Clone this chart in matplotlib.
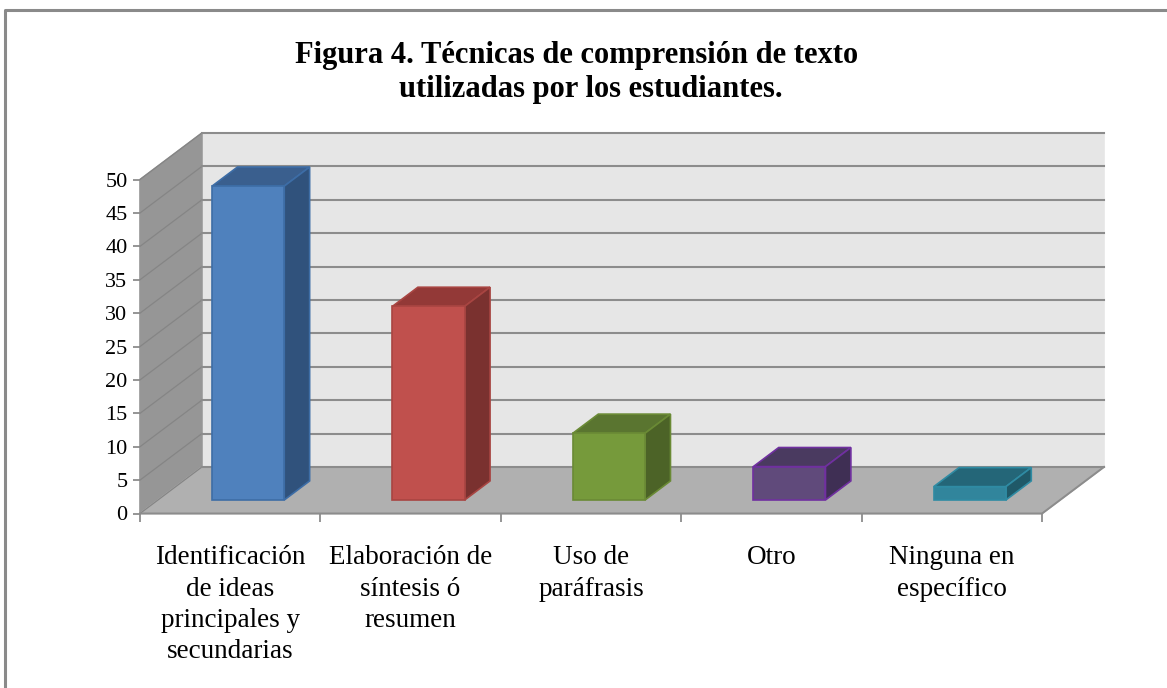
import numpy as np
import matplotlib
matplotlib.use("Agg")
import matplotlib.pyplot as plt
from matplotlib.lines import Line2D
from matplotlib.patches import Polygon

categories = [
    "Identificación\nde ideas\nprincipales y\nsecundarias",
    "Elaboración de\nsíntesis ó\nresumen",
    "Uso de\nparáfrasis",
    "Otro",
    "Ninguna en\nespecífico",
]
values = [47, 29, 10, 5, 2]
y_ticks = [0, 5, 10, 15, 20, 25, 30, 35, 40, 45, 50]

face_colors = ["#4f81bd", "#c0504d", "#769a3b", "#604a7b", "#31859c"]
top_colors = ["#3a5f8e", "#933937", "#5a7530", "#4a3a60", "#246678"]
side_colors = ["#30527c", "#7a312f", "#4c6327", "#3f2f54", "#1f5968"]
edge_colors = ["#3d6da6", "#a84542", "#6a8a35", "#7030a0", "#2f8ba3"]

WIDTH, HEIGHT = 1167, 688
LEFT, RIGHT, TOP, BOTTOM = 140, 1104, 133, 513.5

# depth of the 3d box, expressed in data units
DEPTH_X = 62 / 180.6
DEPTH_Y = 46.5 / 6.67
BAR_WIDTH = 0.4
BAR_START = 0.29
BAR_DEPTH = 0.41


def project(x, depth, y):
    return x + depth * DEPTH_X, y + depth * DEPTH_Y


def face(ax, corners, color, edge=None, zorder=2):
    pts = [project(*c) for c in corners]
    ax.add_patch(Polygon(pts, closed=True, facecolor=color, edgecolor=edge or color,
                         linewidth=1.2, zorder=zorder, clip_on=False))


plt.rcParams["font.family"] = ["Liberation Serif", "DejaVu Serif"]
fig = plt.figure(figsize=(WIDTH / 100, HEIGHT / 100), dpi=100)

# outer frame only shows on the top and left of the picture
fig.add_artist(Line2D([5 / WIDTH, 5 / WIDTH, 1], [0, 1 - 9.5 / HEIGHT, 1 - 9.5 / HEIGHT],
                      color="#8a8a8a", linewidth=2.2, transform=fig.transFigure))

ax = fig.add_axes([LEFT / WIDTH, 1 - BOTTOM / HEIGHT, (RIGHT - LEFT) / WIDTH, (BOTTOM - TOP) / HEIGHT])
n = len(categories)
ymax = y_ticks[-1]
ax.set_xlim(0, n + DEPTH_X)
ax.set_ylim(0, ymax + DEPTH_Y)
ax.patch.set_visible(False)
for spine in ax.spines.values():
    spine.set_visible(False)

# walls and floor
face(ax, [(0, 1, 0), (n, 1, 0), (n, 1, ymax), (0, 1, ymax)], "#e6e6e6", zorder=1)
face(ax, [(0, 0, 0), (0, 1, 0), (0, 1, ymax), (0, 0, ymax)], "#969696", zorder=1)
face(ax, [(0, 0, 0), (n, 0, 0), (n, 1, 0), (0, 1, 0)], "#b0b0b0", zorder=1.2)

# gridlines run along the side wall and the back wall
for v in y_ticks:
    xs, ys = zip(project(0, 0, v), project(0, 1, v))
    ax.plot(xs, ys, color="#858585", linewidth=0.9, zorder=1.5, clip_on=False)
    xs, ys = zip(project(0, 1, v), project(n, 1, v))
    ax.plot(xs, ys, color="#8c8c8c", linewidth=1.5, zorder=1.5, clip_on=False)
xs, ys = zip(project(0, 0, 0), project(n, 0, 0), project(n, 1, 0))
ax.plot(xs, ys, color="#8c8c8c", linewidth=1.4, zorder=1.6, clip_on=False)

# bars, back to front does not matter since they do not overlap
for i, val in enumerate(values):
    x0 = i + 0.5 - BAR_WIDTH / 2
    x1 = x0 + BAR_WIDTH
    d0 = BAR_START
    d1 = BAR_START + BAR_DEPTH
    face(ax, [(x0, d0, val), (x1, d0, val), (x1, d1, val), (x0, d1, val)], top_colors[i], edge_colors[i], 3)
    face(ax, [(x1, d0, 0), (x1, d1, 0), (x1, d1, val), (x1, d0, val)], side_colors[i], edge_colors[i], 3)
    px, py = project(x0, d0, 0)
    ax.bar(px, val, width=BAR_WIDTH, bottom=py, align="edge", color=face_colors[i],
           edgecolor=edge_colors[i], linewidth=1.2, zorder=4)

ax.set_yticks(y_ticks)
ax.set_yticklabels([str(v) for v in y_ticks], fontsize=16)
ax.set_xticks(np.arange(n + 1))
ax.set_xticklabels([])
ax.set_xticks(np.arange(n) + 0.5, minor=True)
ax.set_xticklabels(categories, minor=True, fontsize=19.5, linespacing=1.33, va="top")
ax.tick_params(axis="y", length=5, width=1.3, color="#8c8c8c", pad=4, labelcolor="black")
ax.tick_params(axis="x", which="major", length=6, width=1.3, color="#8c8c8c")
ax.tick_params(axis="x", which="minor", length=0, pad=23, labelcolor="black")

fig.text(577 / WIDTH, 1 - 55 / HEIGHT, "Figura 4. Técnicas de comprensión de texto",
         ha="center", va="center", fontsize=22, fontweight="bold", color="black")
fig.text(591 / WIDTH, 1 - 90 / HEIGHT, "utilizadas por los estudiantes.",
         ha="center", va="center", fontsize=22, fontweight="bold", color="black")

fig.savefig("out.png", dpi=100)
